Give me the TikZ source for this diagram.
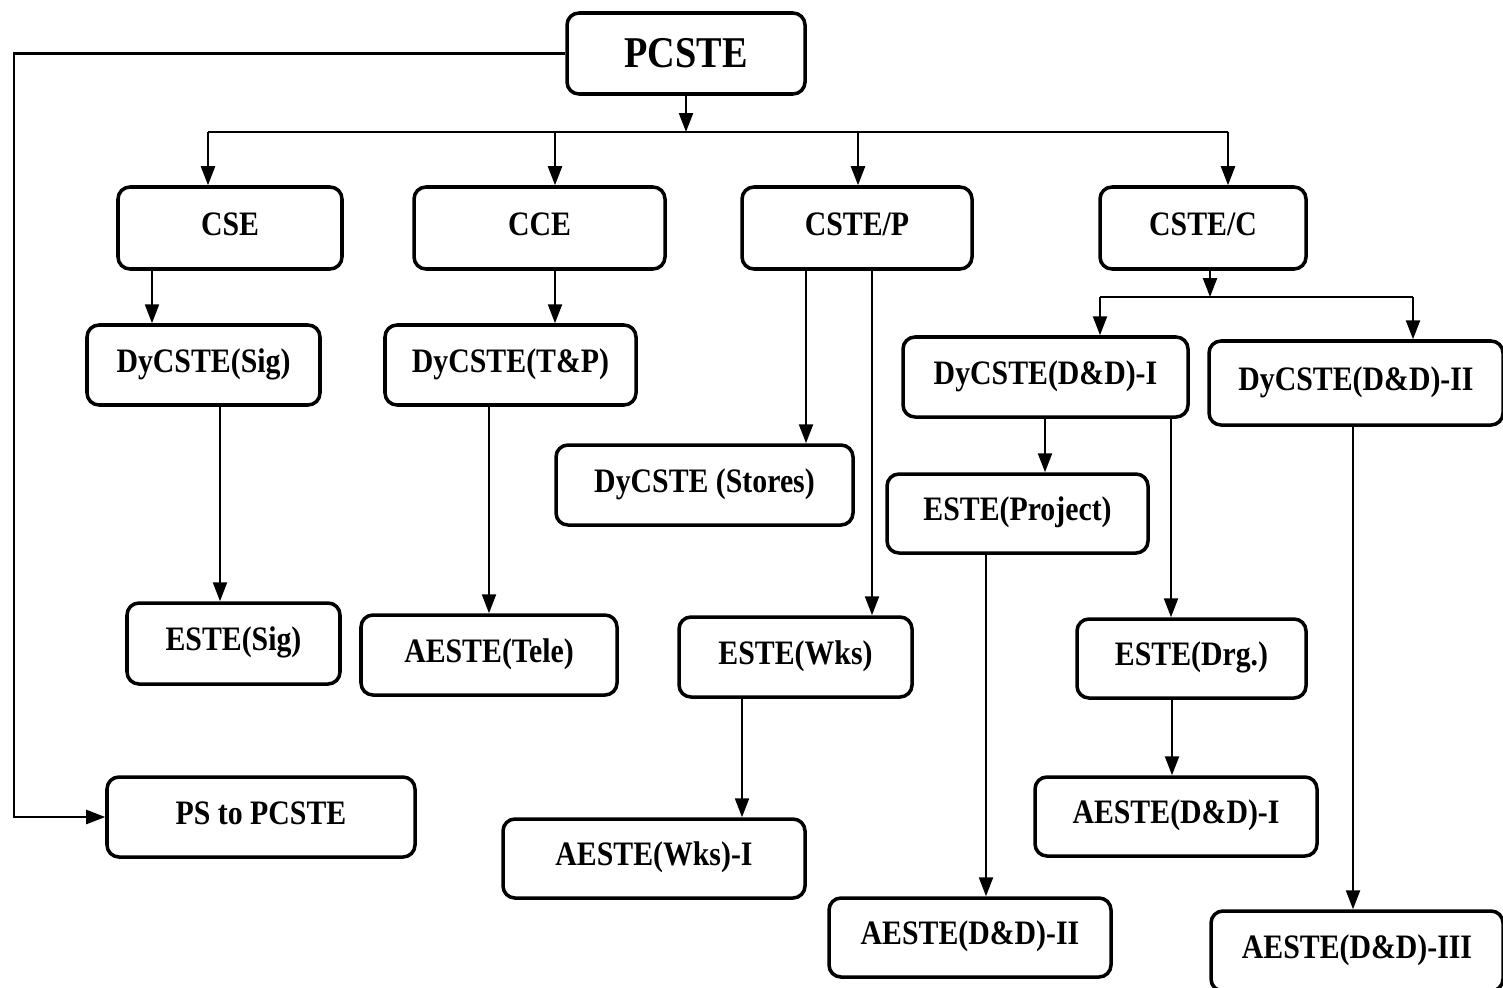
\documentclass[tikz,border=0pt]{standalone}
\usepackage{fontspec}
\setmainfont{Liberation Serif}[FakeStretch=0.87]
\usetikzlibrary{arrows.meta}
\begin{document}
\begin{tikzpicture}[x=0.02cm,y=-0.02cm,
  box/.style={rectangle, draw=black, line width=2pt, rounded corners=0.24cm, inner sep=0pt,
    text height=14pt, text depth=5.6pt, font=\bfseries\fontsize{19.5}{23}\selectfont},
  link/.style={line width=1.3pt},
  arr/.style={line width=1.3pt, -{Triangle[length=0.38cm,width=0.28cm]}}]
\useasboundingbox (0,0) rectangle (1503,987);
%Define all nodes here.

\node(pcste) at (686,53.5) [box, minimum width=238*0.02cm, minimum height=81*0.02cm, text height=18pt, text depth=1.5pt, font=\bfseries\fontsize{25}{30}\selectfont] {PCSTE};

\node(cse) at (230,228) [box, minimum width=224*0.02cm, minimum height=82*0.02cm] {CSE};
\node(cce) at (539.5,228) [box, minimum width=251*0.02cm, minimum height=82*0.02cm] {CCE};
\node(cstep) at (857,228) [box, minimum width=230*0.02cm, minimum height=82*0.02cm] {CSTE/P};
\node(cstec) at (1203,228) [box, minimum width=206*0.02cm, minimum height=82*0.02cm] {CSTE/C};

\node(dysig) at (203.5,365) [box, minimum width=233*0.02cm, minimum height=80*0.02cm] {DyCSTE(Sig)};
\node(dytp) at (510.5,365) [box, minimum width=251*0.02cm, minimum height=80*0.02cm] {DyCSTE(T\&P)};
\node(stores) at (704.5,485) [box, minimum width=297*0.02cm, minimum height=80*0.02cm] {DyCSTE (Stores)};
\node(dydd1) at (1045.5,377) [box, minimum width=285*0.02cm, minimum height=80*0.02cm] {DyCSTE(D\&D)-I};
\node(dydd2) at (1356,383) [box, minimum width=294*0.02cm, minimum height=84*0.02cm] {DyCSTE(D\&D)-II};

\node(estesig) at (233.5,643.5) [box, minimum width=213*0.02cm, minimum height=81*0.02cm] {ESTE(Sig)};
\node(aetele) at (489,655) [box, minimum width=256*0.02cm, minimum height=80*0.02cm] {AESTE(Tele)};
\node(estewks) at (795.5,657) [box, minimum width=233*0.02cm, minimum height=80*0.02cm] {ESTE(Wks)};
\node(project) at (1017.5,513.5) [box, minimum width=261*0.02cm, minimum height=79*0.02cm] {ESTE(Project)};
\node(drg) at (1191.5,658.5) [box, minimum width=229*0.02cm, minimum height=79*0.02cm] {ESTE(Drg.)};

\node(ps) at (261,817) [box, minimum width=308*0.02cm, minimum height=80*0.02cm] {PS to PCSTE};
\node(aewks) at (654,858.5) [box, minimum width=302*0.02cm, minimum height=79*0.02cm] {AESTE(Wks)-I};
\node(aedd1) at (1176,816.5) [box, minimum width=282*0.02cm, minimum height=79*0.02cm] {AESTE(D\&D)-I};
\node(aedd2) at (970,937.5) [box, minimum width=282*0.02cm, minimum height=79*0.02cm] {AESTE(D\&D)-II};
\node(aedd3) at (1357,951) [box, minimum width=292*0.02cm, minimum height=80*0.02cm] {AESTE(D\&D)-III};

\coordinate(bus) at (686,132);
\coordinate(busl) at (208,132);
\coordinate(busr) at (1228,132);
\coordinate(bus2) at (1210,297);
\coordinate(bus2l) at (1100,297);
\coordinate(bus2r) at (1413,297);

\draw[arr] (pcste) -- (bus);
\draw[link] (busl) -- (busr);
\draw[arr] (busl) -- (busl |- cse.north);
\draw[arr] (bus -| 555,0) -- (cce.north -| 555,0);
\draw[arr] (bus -| 858,0) -- (cstep.north -| 858,0);
\draw[arr] (busr) -- (busr |- cstec.north);

\draw[arr] (cse.south -| 152,0) -- (dysig.north -| 152,0);
\draw[arr] (cce.south -| 555,0) -- (dytp.north -| 555,0);
\draw[arr] (dysig.south -| 220,0) -- (estesig.north -| 220,0);
\draw[arr] (dytp.south -| 489,0) -- (aetele.north -| 489,0);
\draw[arr] (cstep.south -| 806,0) -- (stores.north -| 806,0);
\draw[arr] (cstep.south -| 872,0) -- (estewks.north -| 872,0);
\draw[arr] (estewks.south -| 742,0) -- (aewks.north -| 742,0);

\draw[arr] (cstec.south -| bus2) -- (bus2);
\draw[link] (bus2l) -- (bus2r);
\draw[arr] (bus2l) -- (bus2l |- dydd1.north);
\draw[arr] (bus2r) -- (bus2r |- dydd2.north);
\draw[arr] (dydd1.south -| 1045,0) -- (project.north -| 1045,0);
\draw[arr] (dydd1.south -| 1171,0) -- (drg.north -| 1171,0);
\draw[arr] (drg.south -| 1172,0) -- (aedd1.north -| 1172,0);
\draw[arr] (project.south -| 986,0) -- (aedd2.north -| 986,0);
\draw[arr] (dydd2.south -| 1353,0) -- (aedd3.north -| 1353,0);

\draw[arr] (pcste.west) -- (pcste.west -| 14,0) |- (ps.west);
\end{tikzpicture}
\end{document}
